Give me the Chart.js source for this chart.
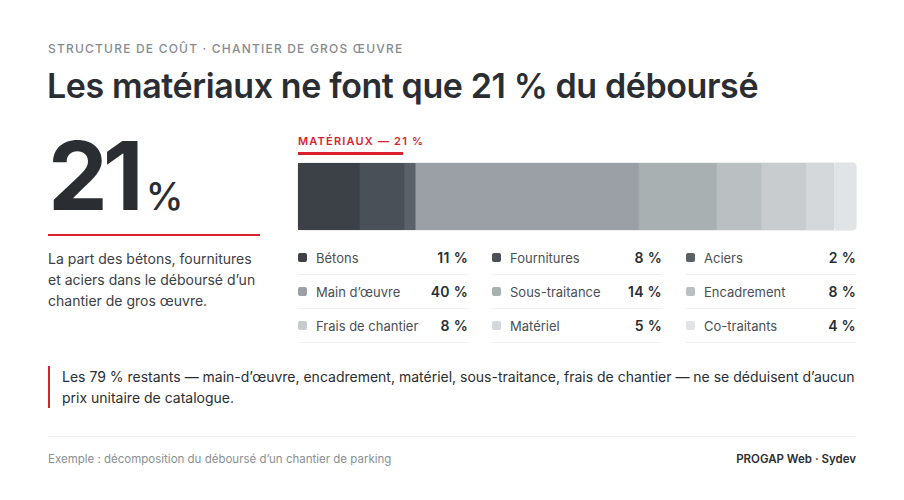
<!DOCTYPE html>
<html lang="fr">
<head>
<meta charset="utf-8">
<script src="https://cdn.jsdelivr.net/npm/chart.js@4.4.1/dist/chart.umd.min.js"></script>
<style>
  html, body { margin: 0; padding: 0; background: #fff; }
  body { width: 904px; height: 500px; position: relative; font-family: Inter, "Noto Sans", sans-serif; color: #2a2e33; overflow: hidden; }
  .abs { position: absolute; }
  #kicker { left: 48px; top: 41px; font-size: 12px; letter-spacing: 1.2px; color: #868b91; font-weight: 500; }
  #title { left: 47px; top: 65px; font-size: 34px; font-weight: 600; letter-spacing: -0.4px; color: #2a2e33; white-space: nowrap; }
  #big { left: 48px; top: 128px; font-size: 95px; font-weight: 700; letter-spacing: -5px; line-height: 1; color: #2a2e33; }
  #big span { font-size: 38px; font-weight: 500; letter-spacing: 0; margin-left: 7px; }
  #bigline { left: 48px; top: 234px; width: 212px; height: 2px; background: #d91f30; }
  #desc { left: 48px; top: 248px; width: 215px; font-size: 14px; line-height: 21px; color: #3b4046; }
  #matlabel { left: 298px; top: 134px; font-size: 11px; font-weight: 600; letter-spacing: 1.2px; color: #d91f30; }
  #matline { left: 298px; top: 152px; width: 105px; height: 3px; background: #d91f30; }
  #barwrap { left: 298px; top: 163px; width: 558px; height: 67px; border-radius: 4px; box-shadow: 0 0 0 1px #eceef0; }
  #legend { left: 298px; top: 241px; width: 558px; display: grid; grid-template-columns: 170px 170px 170px; column-gap: 24px; }
  .item { height: 33px; border-bottom: 1px solid #eef0f2; display: flex; align-items: center; font-size: 13px; color: #4a4f55; }
  .sw { width: 9px; height: 9px; border-radius: 2px; margin-right: 9px; }
  .name { flex: 1; }
  .val { font-weight: 600; font-size: 14px; letter-spacing: 0.3px; color: #2a2e33; }
  #quote { left: 48px; top: 366px; height: 42px; border-left: 2px solid #d91f30; padding-left: 12px; width: 800px; font-size: 14px; line-height: 21px; color: #2a2e33; }
  #rule { left: 48px; top: 436px; width: 808px; height: 1px; background: #eceef0; }
  #footl { left: 48px; top: 452px; font-size: 11.5px; color: #8a8f94; }
  #footr { right: 48px; top: 452px; font-size: 11.5px; font-weight: 600; color: #2a2e33; }
</style>
</head>
<body>
<div id="kicker" class="abs">STRUCTURE DE COÛT · CHANTIER DE GROS ŒUVRE</div>
<div id="title" class="abs">Les matériaux ne font que 21 % du déboursé</div>
<div id="big" class="abs">21<span>%</span></div>
<div id="bigline" class="abs"></div>
<div id="desc" class="abs">La part des bétons, fournitures et aciers dans le déboursé d’un chantier de gros œuvre.</div>
<div id="matlabel" class="abs">MATÉRIAUX — 21 %</div>
<div id="matline" class="abs"></div>
<div id="barwrap" class="abs"><canvas id="bar"></canvas></div>
<div id="legend" class="abs"></div>
<div id="quote" class="abs">Les 79 % restants — main-d’œuvre, encadrement, matériel, sous-traitance, frais de chantier — ne se déduisent d’aucun prix unitaire de catalogue.</div>
<div id="rule" class="abs"></div>
<div id="footl" class="abs">Exemple : décomposition du déboursé d’un chantier de parking</div>
<div id="footr" class="abs">PROGAP Web · Sydev</div>
<script>
var postes = [
    "Bétons",
    "Fournitures",
    "Aciers",
    "Main d’œuvre",
    "Sous-traitance",
    "Encadrement",
    "Frais de chantier",
    "Matériel",
    "Co-traitants",
];
var parts = [
    11,
    8,
    2,
    40,
    14,
    8,
    8,
    5,
    4,
];
var couleurs = [
    '#3c4047',
    '#4a5058',
    '#5b6168',
    '#9aa0a6',
    '#a9b0b2',
    '#babfc2',
    '#c8cccf',
    '#d5d8db',
    '#e1e4e7',
];

// legende en grille, construite depuis les tableaux
var legend = document.getElementById("legend");
postes.forEach(function (nom, i) {
    var row = document.createElement("div");
    row.className = "item";
    row.innerHTML = '<div class="sw" style="background:' + couleurs[i] + '"></div>' +
        '<div class="name">' + nom + '</div><div class="val">' + parts[i] + ' %</div>';
    legend.appendChild(row);
});

var ctx = document.getElementById("bar").getContext('2d');
var barChart = new Chart(ctx, {
    type: 'bar',
    data: {
        labels: ["Déboursé"],
        datasets: postes.map(function (nom, i) {
            return {
                label: nom,
                data: [parts[i]],
                backgroundColor: couleurs[i],
                borderWidth: 0,
                borderSkipped: false,
                borderRadius: 4,
                barPercentage: 1,
                categoryPercentage: 1,
            };
        })
    },
    options: {
        indexAxis: 'y',
        responsive: true,
        maintainAspectRatio: false,
        animation: false,
        layout: { padding: 0 },
        scales: {
            x: { stacked: true, min: 0, max: 100, display: false },
            y: { stacked: true, display: false }
        },
        plugins: {
            legend: { display: false },
            tooltip: { enabled: false }
        }
    }
});
</script>
</body>
</html>
